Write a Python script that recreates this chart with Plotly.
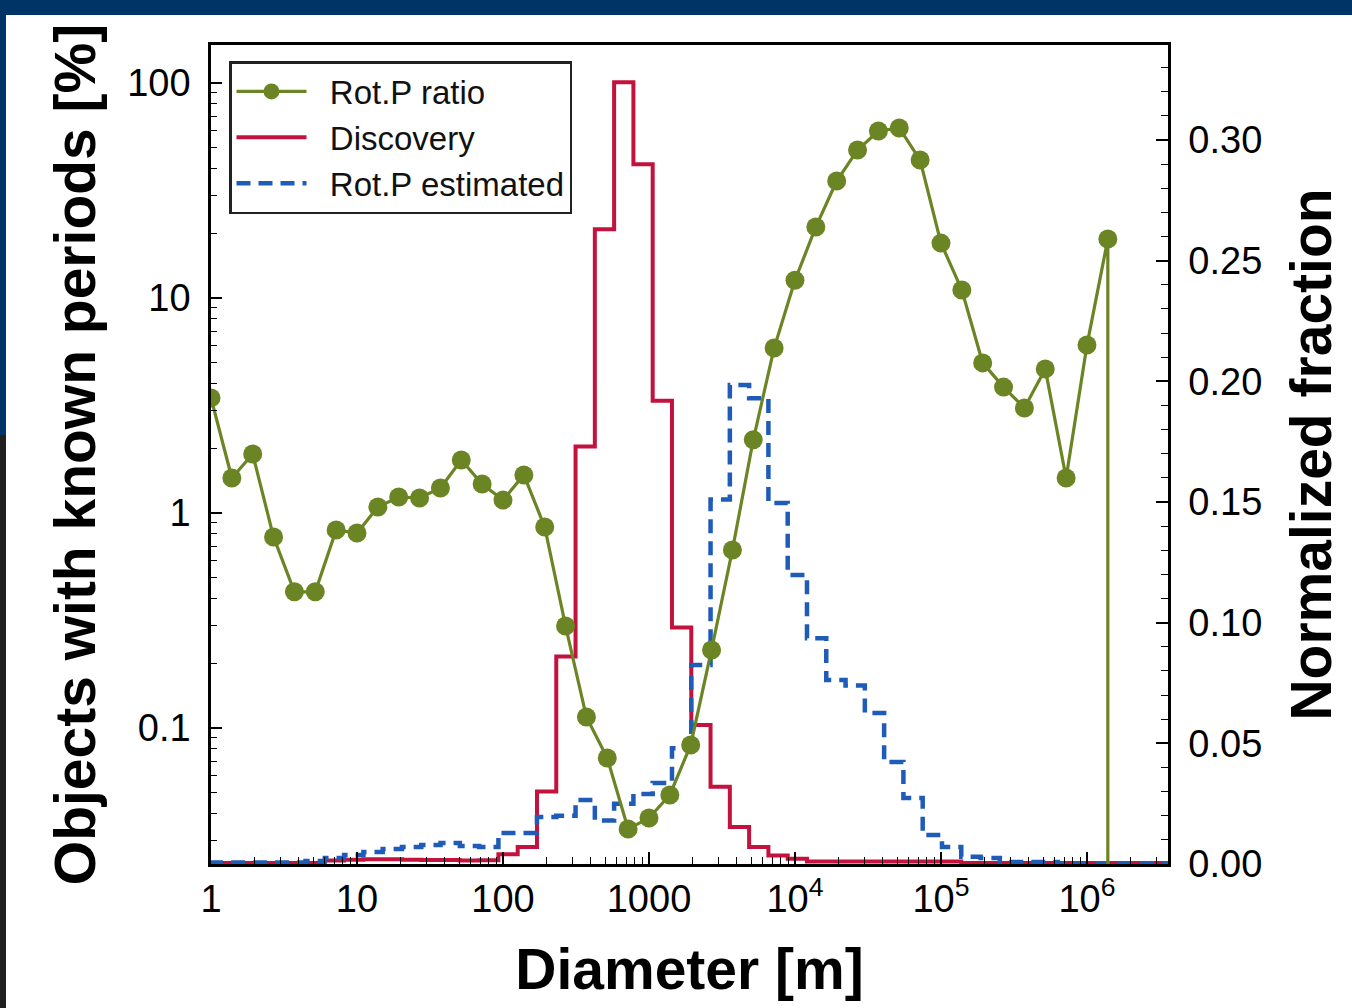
import numpy as np
import plotly.graph_objects as go

# ---------------- data ----------------
# Rot.P ratio: objects with known rotation periods [%], 1/7-decade diameter bins from 1 m
ratio_bin_index = list(range(44))
ratio_pct = [3.43, 1.455, 1.88, 0.773, 0.43, 0.43, 0.834, 0.807, 1.067, 1.186,
             1.175, 1.306, 1.765, 1.364, 1.148, 1.503, 0.861, 0.298, 0.1125, 0.0725,
             0.0339, 0.0381, 0.0488, 0.0834, 0.2307, 0.673, 2.19, 5.85, 12.1, 21.4,
             35.0, 48.8, 59.8, 61.8, 43.8, 18.0, 10.9, 4.99, 3.85, 3.08,
             4.68, 1.455, 6.04, 18.8]
ratio_after_last_pct = 0.0   # next bin is empty -> drop to the axis

# Histogram bins (log10 diameter): edge at 10^3.1575 m, width 0.1321 dex
hist_bin_index = list(range(-24, 26))
discovery_frac = [0.0004, 0.0004, 0.0004, 0.0004, 0.0004, 0.0004,
                  0.0015, 0.0018, 0.002, 0.002, 0.0018, 0.0017, 0.0017, 0.0015, 0.0016,
                  0.004, 0.007, 0.030, 0.086, 0.173, 0.263, 0.324, 0.290, 0.192, 0.098,
                  0.0576, 0.032, 0.0153, 0.007, 0.0035, 0.0022,
                  0.001, 0.001, 0.001, 0.001, 0.001, 0.001, 0.001, 0.001,
                  0.0004, 0.0004, 0.0004, 0.0004, 0.0004, 0.0004, 0.0004, 0.0004,
                  0.0004, 0.0004, 0.0004]
estimated_frac = [0.0006, 0.0006, 0.0006, 0.0006, 0.0006,
                  0.0012, 0.0025, 0.0037, 0.005, 0.0062, 0.007, 0.0079, 0.0087, 0.0075, 0.007,
                  0.0128, 0.0128, 0.0195, 0.020, 0.0265, 0.018, 0.025, 0.029, 0.0336, 0.048,
                  0.0825, 0.151, 0.1985, 0.193, 0.1496, 0.1198, 0.0936, 0.0762, 0.074, 0.0626,
                  0.0423, 0.0273, 0.012, 0.007, 0.003, 0.0025,
                  0.0008, 0.0008, 0.0008,
                  0.0003, 0.0003, 0.0003, 0.0003, 0.0003, 0.0003]

x_tick_vals = [1, 10, 100, 1000, 1e4, 1e5, 1e6]
x_tick_text = ["1", "10", "100", "1000", "10<sup>4</sup>", "10<sup>5</sup>", "10<sup>6</sup>"]
left_tick_vals = [0.1, 1, 10, 100]
left_tick_text = ["0.1", "1", "10", "100"]

# ---------------- derived grids ----------------
ratio_diam = [10 ** (k / 7) for k in ratio_bin_index]
EDGE0, BINW = 3.1575, 0.1321
hist_edges = [10 ** (EDGE0 + BINW * j) for j in hist_bin_index] + \
             [10 ** (EDGE0 + BINW * (hist_bin_index[-1] + 1))]

LEFT_RANGE = [-1.6326, 2.1767]
floor_val = 10 ** (LEFT_RANGE[0] - 1)  # log axis cannot show 0; draw below the frame

GREEN = "#6B8424"
RED = "#C4123F"
BLUE = "#1F5CB8"
FONT = "Liberation Sans, Arial, sans-serif"
PAD = "\u00a0\u00a0"

fig = go.Figure()

fig.add_trace(go.Scatter(
    x=hist_edges, y=discovery_frac + [discovery_frac[-1]],
    mode="lines", line=dict(color=RED, width=4, shape="hv"),
    name=PAD + "Discovery", yaxis="y", legendrank=2, legendgroup="b"))

fig.add_trace(go.Scatter(
    x=hist_edges, y=estimated_frac + [estimated_frac[-1]],
    mode="lines", line=dict(color=BLUE, width=4.5, shape="hv", dash="14px,8px"),
    name=PAD + "Rot.P estimated", yaxis="y", legendrank=3, legendgroup="c"))

ratio_y = ratio_pct + [ratio_after_last_pct if ratio_after_last_pct > 0 else floor_val]
fig.add_trace(go.Scatter(
    x=ratio_diam + [ratio_diam[-1]], y=ratio_y,
    mode="lines+markers", line=dict(color=GREEN, width=3.2),
    marker=dict(color=GREEN, size=19, symbol="circle"),
    name=PAD + "Rot.P ratio", yaxis="y2", legendrank=1, legendgroup="a"))

W, H = 1352, 1008
L, R, T, B = 211, 184, 45, 144
pw, ph = W - L - R, H - T - B
def px_x(px):
    return (px - L) / pw
def px_y(py):
    return (H - B - py) / ph

shapes = [
    dict(type="rect", xref="paper", yref="paper", x0=px_x(0), x1=px_x(W), y0=px_y(15), y1=px_y(0),
         fillcolor="#003366", line=dict(width=0), layer="below"),
    dict(type="rect", xref="paper", yref="paper", x0=px_x(0), x1=px_x(6), y0=px_y(435), y1=px_y(0),
         fillcolor="#003366", line=dict(width=0), layer="below"),
    dict(type="rect", xref="paper", yref="paper", x0=px_x(0), x1=px_x(6), y0=px_y(H), y1=px_y(435),
         fillcolor="#202020", line=dict(width=0), layer="below"),
]

x_minor = [m * 10 ** e for e in range(0, 7) for m in range(2, 10)]
y_minor = [m * 10 ** e for e in range(-2, 3) for m in range(2, 10)]

fig.update_layout(
    width=W, height=H,
    margin=dict(l=L, r=R, t=T, b=B, pad=0),
    paper_bgcolor="white", plot_bgcolor="white",
    font=dict(family=FONT, color="black"),
    showlegend=True,
    shapes=shapes,
    xaxis=dict(
        type="log", range=[0, 6.555],
        tickmode="array", tickvals=x_tick_vals, ticktext=x_tick_text,
        ticks="inside", ticklen=12, tickwidth=1.5, tickcolor="black",
        minor=dict(tickmode="array", tickvals=x_minor, ticks="inside", ticklen=7,
                   tickwidth=1.2, tickcolor="black", showgrid=False),
        showline=True, linecolor="black", linewidth=2.5, mirror=True,
        showgrid=False, zeroline=False,
        tickfont=dict(size=38, family=FONT), ticklabelstandoff=0,
        title=dict(text="Diameter [m]", font=dict(size=57, family=FONT, weight="bold"), standoff=30),
    ),
    yaxis=dict(
        side="right", range=[0, 0.3394],
        tickmode="linear", tick0=0, dtick=0.05, tickformat=".2f",
        ticks="inside", ticklen=12, tickwidth=1.5, tickcolor="black",
        minor=dict(dtick=0.01, ticks="inside", ticklen=7, tickwidth=1.2, tickcolor="black", showgrid=False),
        showline=True, linecolor="black", linewidth=2.5,
        showgrid=False, zeroline=False,
        tickfont=dict(size=38, family=FONT), ticklabelstandoff=10,
        title=dict(text="Normalized fraction", font=dict(size=57, family=FONT, weight="bold"), standoff=30),
    ),
    yaxis2=dict(
        overlaying="y", side="left", type="log", range=LEFT_RANGE,
        tickmode="array", tickvals=left_tick_vals, ticktext=left_tick_text,
        ticks="inside", ticklen=11, tickwidth=1.5, tickcolor="black",
        minor=dict(tickmode="array", tickvals=y_minor, ticks="inside", ticklen=6,
                   tickwidth=1.2, tickcolor="black", showgrid=False),
        showline=True, linecolor="black", linewidth=2.5,
        showgrid=False, zeroline=False,
        tickfont=dict(size=38, family=FONT), ticklabelstandoff=10,
        title=dict(text="Objects with known periods [%]", font=dict(size=57, family=FONT, weight="bold"), standoff=14),
    ),
    legend=dict(
        x=px_x(229), y=px_y(61), xanchor="left", yanchor="top",
        bgcolor="white", bordercolor="#222222", borderwidth=2.5,
        font=dict(size=33, family=FONT, color="#111111"),
        itemwidth=70, tracegroupgap=8, traceorder="normal",
    ),
)

fig.write_html("out.html")
